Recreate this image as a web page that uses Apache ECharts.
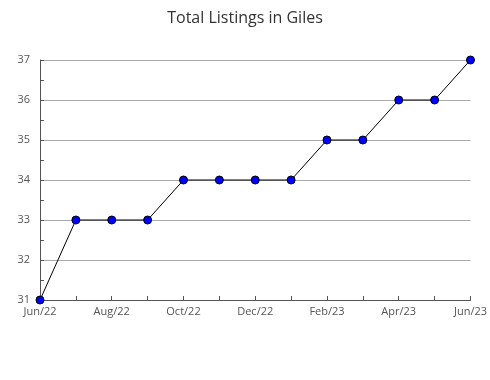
<!DOCTYPE html>
<html><head><meta charset="utf-8">
<script src="https://cdn.jsdelivr.net/npm/echarts@6/dist/echarts.min.js"></script>
<style>html,body{margin:0;padding:0;background:#fff}#c{width:490px;height:380px}</style>
</head><body><div id="c"></div>
<script>
const categories = ['Jun/22','Jul/22','Aug/22','Sep/22','Oct/22','Nov/22','Dec/22','Jan/23','Feb/23','Mar/23','Apr/23','May/23','Jun/23'];
const listings = [31,33,33,33,34,34,34,34,35,35,36,36,37];
const yMin = 31, yMax = 37;

const chart = echarts.init(document.getElementById('c'));
chart.setOption({
  animation: false,
  title: {
    text: 'Total Listings in Giles', left: 'center', top: 5,
    textStyle: {fontFamily: 'Open Sans', fontSize: 16, fontWeight: 'normal', color: '#333'}
  },
  grid: {left: 40, right: 19, top: 60, bottom: 80},
  xAxis: {
    type: 'category', data: categories, boundaryGap: false,
    axisLine: {lineStyle: {color: '#555', width: 1}},
    axisTick: {show: true, inside: true, length: 4, interval: 0, lineStyle: {color: '#555'}},
    axisLabel: {interval: 1, color: '#555', fontFamily: 'Open Sans', fontSize: 11, margin: 6},
    splitLine: {show: false}
  },
  yAxis: {
    type: 'value', min: yMin, max: yMax, interval: 1,
    axisLine: {show: true, lineStyle: {color: '#555', width: 1}},
    axisTick: {show: true, inside: true, length: 4, lineStyle: {color: '#555'}},
    minorTick: {show: true, splitNumber: 2, length: 4, lineStyle: {color: '#555'}},
    axisLabel: {color: '#555', fontFamily: 'Open Sans', fontSize: 11, margin: 10},
    splitLine: {show: true, lineStyle: {color: '#aaa', width: 1}}
  },
  series: [{
    type: 'line', data: listings,
    symbol: 'circle', symbolSize: 8,
    lineStyle: {color: '#000', width: 1},
    itemStyle: {color: '#0000ff', borderColor: '#000', borderWidth: 1}
  }]
});
</script></body></html>
